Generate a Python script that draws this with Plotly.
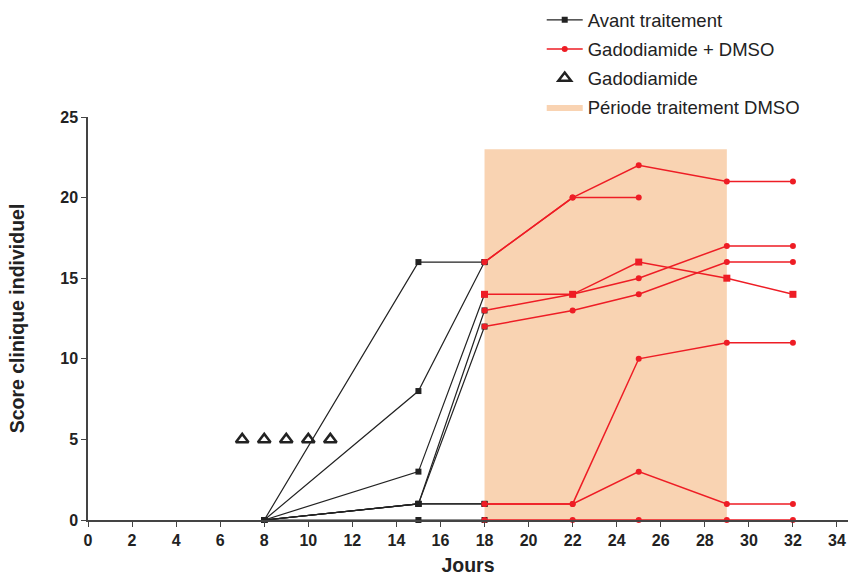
import plotly.graph_objects as go

# ---- data ----
days_before = [8, 15, 18]
before_scores = [
    [0, 16, 16],
    [0, 8, 16],
    [0, 3, 14],
    [0, 1, 13],
    [0, 1, 12],
    [0, 1, 1],
    [0, 1, 1],
    [0, 0, 0],
]
after_days = [
    [18, 22, 25, 29, 32],
    [18, 22, 25],
    [18, 22, 25, 29, 32],
    [18, 22, 25, 29, 32],
    [18, 22, 25, 29, 32],
    [18, 22, 25, 29, 32],
    [18, 22, 25, 29, 32],
    [18, 22, 25, 29, 32],
]
after_scores = [
    [16, 20, 22, 21, 21],
    [16, 20, 20],
    [14, 14, 16, 15, 14],
    [13, 14, 15, 17, 17],
    [12, 13, 14, 16, 16],
    [1, 1, 10, 11, 11],
    [1, 1, 3, 1, 1],
    [0, 0, 0, 0, 0],
]
after_square = [False, False, True, False, False, False, False, False]
gado_days = [7, 8, 9, 10, 11]
gado_scores = [5, 5, 5, 5, 5]
dmso_start, dmso_end, dmso_top = 18, 29, 23

x_ticks = list(range(0, 35, 2))
y_ticks = [0, 5, 10, 15, 20, 25]

RED = "#EE1D25"
PEACH = "#F9D3B2"
FONT = "Liberation Sans, Arial, sans-serif"

fig = go.Figure()

# DMSO period rectangle
fig.add_trace(go.Scatter(
    x=[dmso_start, dmso_end, dmso_end, dmso_start, dmso_start],
    y=[0, 0, dmso_top, dmso_top, 0],
    mode="lines", fill="toself", fillcolor=PEACH,
    line=dict(width=0, color=PEACH),
    name="Période traitement DMSO", legendgroup="d", legendrank=4,
    hoverinfo="skip",
))

for i, ys in enumerate(before_scores):
    fig.add_trace(go.Scatter(
        x=days_before, y=ys, mode="lines+markers",
        line=dict(color="#222222", width=1.2),
        marker=dict(symbol="square", size=6, color="#222222"),
        name="Avant traitement", legendgroup="a", legendrank=1,
        showlegend=(i == 0), cliponaxis=False,
    ))

for i, (xs, ys) in enumerate(zip(after_days, after_scores)):
    fig.add_trace(go.Scatter(
        x=xs, y=ys, mode="lines+markers",
        line=dict(color=RED, width=1.5),
        marker=dict(symbol="square" if after_square[i] else "circle",
                    size=7 if after_square[i] else 6, color=RED),
        name="Gadodiamide + DMSO", legendgroup="b", legendrank=2,
        showlegend=(i == 0), cliponaxis=False,
    ))

fig.add_trace(go.Scatter(
    x=gado_days, y=gado_scores, mode="markers",
    marker=dict(symbol="triangle-up-open", size=11, color="#222222",
                line=dict(width=2.5, color="#222222")),
    name="Gadodiamide", legendgroup="c", legendrank=3,
))

fig.update_layout(
    width=850, height=577,
    paper_bgcolor="white", plot_bgcolor="white",
    margin=dict(l=88, r=2, t=117, b=57, autoexpand=False),
    font=dict(family=FONT, color="#222222"),
    showlegend=True,
    legend=dict(
        x=0.597, y=1.287, xanchor="left", yanchor="top",
        traceorder="grouped", tracegroupgap=2,
        font=dict(size=18.5, family=FONT, color="#222222"),
        bgcolor="rgba(0,0,0,0)", itemwidth=36,
    ),
    xaxis=dict(
        range=[0, 34.5], tickvals=x_ticks, ticktext=[str(t) for t in x_ticks],
        showgrid=False, zeroline=False, showline=True, linecolor="#444444",
        linewidth=1.5, ticks="outside", ticklen=5, tickcolor="#444444",
        tickfont=dict(size=16, family=FONT, color="#222222", weight="bold"),
        title=dict(text="<b>Jours</b>", font=dict(size=19.5, family=FONT), standoff=10),
        automargin=False,
    ),
    yaxis=dict(
        range=[0, 25], tickvals=y_ticks, ticktext=[str(t) for t in y_ticks],
        showgrid=False, zeroline=False, showline=True, linecolor="#444444",
        linewidth=1.5, ticks="outside", ticklen=5, tickcolor="#444444",
        tickfont=dict(size=16, family=FONT, color="#222222", weight="bold"),
        title=dict(text="<b>Score clinique individuel</b>", font=dict(size=19.5, family=FONT), standoff=30),
        automargin=False,
    ),
)

fig.write_html("out.html", config={"displayModeBar": False},
               post_script="document.body.style.margin='0';")
